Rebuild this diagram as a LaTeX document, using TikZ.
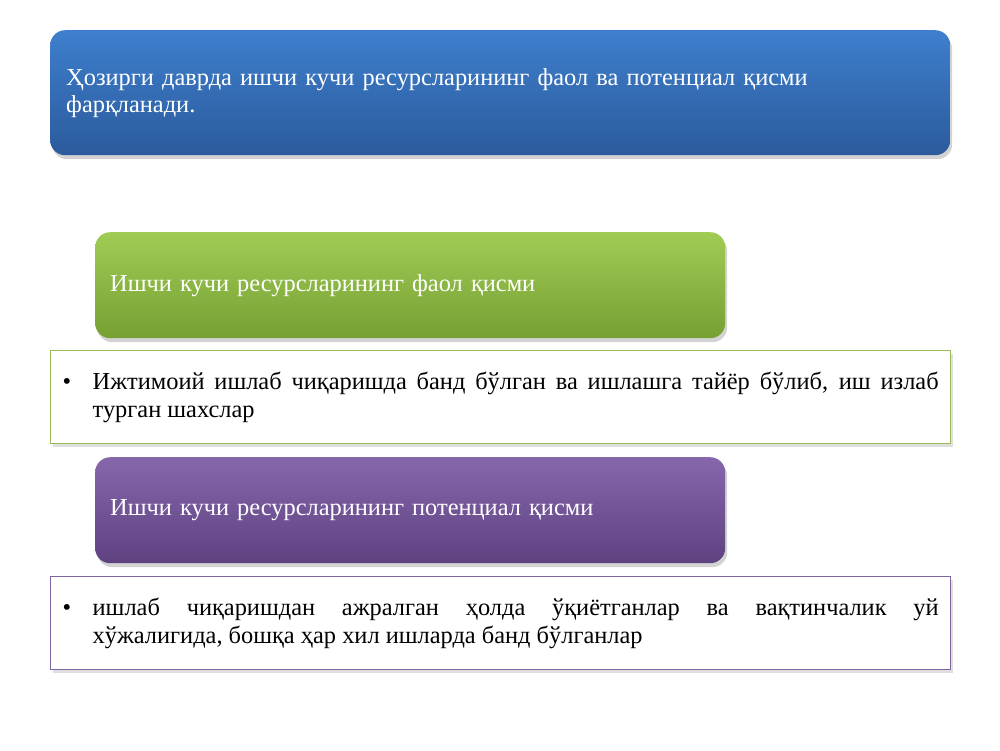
\documentclass[tikz,border=0pt]{standalone}
\usepackage{fontspec}
\setmainfont{Liberation Serif}
\usetikzlibrary{shadows}
\definecolor{bluetop}{HTML}{3E7FCD}
\definecolor{bluebot}{HTML}{2B5A9C}
\definecolor{greentop}{HTML}{A0CC55}
\definecolor{greenbot}{HTML}{76A033}
\definecolor{purptop}{HTML}{8667AC}
\definecolor{purpbot}{HTML}{5E4280}
\definecolor{greenline}{HTML}{9BBB59}
\definecolor{purpline}{HTML}{8064A2}
\tikzset{
  head/.style={rounded corners=15pt, anchor=north west, inner xsep=16pt,
               text=white, align=left, font=\fontsize{24.4}{27}\selectfont,
               drop shadow={opacity=0.35, shadow xshift=2pt, shadow yshift=-4pt}},
  sub/.style={head, inner xsep=15pt, text width=600pt, minimum height=106pt},
  note/.style={anchor=north west, fill=white, line width=1.4pt, inner xsep=0pt,
               text width=900pt, minimum height=93pt, align=justify,
               font=\fontsize{24.4}{28}\selectfont,
               drop shadow={opacity=0.25, shadow xshift=2pt, shadow yshift=-3pt}},
}
\newcommand{\bul}[1]{\leftskip=12pt\rightskip=12pt\parfillskip=0pt plus 1fil
  \hangindent=30pt\hangafter=1
  \noindent\makebox[30pt][l]{\textbullet}#1\par}
\begin{document}
\begin{tikzpicture}[x=1pt,y=-1pt]
  \useasboundingbox (0,0) rectangle (1000,750);
  % top heading
  \node[head, top color=bluetop, bottom color=bluebot, text width=868pt,
        minimum height=125pt] (main) at (50,30)
       {Ҳозирги даврда ишчи кучи ресурсларининг фаол ва потенциал қисми\\фарқланади.};
  % active part
  \node[sub, top color=greentop, bottom color=greenbot] (faol) at (95,232)
       {Ишчи кучи ресурсларининг фаол қисми};
  \node[note, draw=greenline] (faoltxt) at (50,350)
       {\bul{Ижтимоий ишлаб чиқаришда банд бўлган ва ишлашга тайёр бўлиб, иш излаб\linebreak турган шахслар}};
  % potential part
  \node[sub, top color=purptop, bottom color=purpbot] (pot) at (95,457)
       {Ишчи кучи ресурсларининг потенциал қисми};
  \node[note, draw=purpline] (pottxt) at (50,576)
       {\bul{ишлаб чиқаришдан ажралган ҳолда ўқиётганлар ва вақтинчалик уй\linebreak хўжалигида, бошқа ҳар хил ишларда банд бўлганлар}};
\end{tikzpicture}
\end{document}
